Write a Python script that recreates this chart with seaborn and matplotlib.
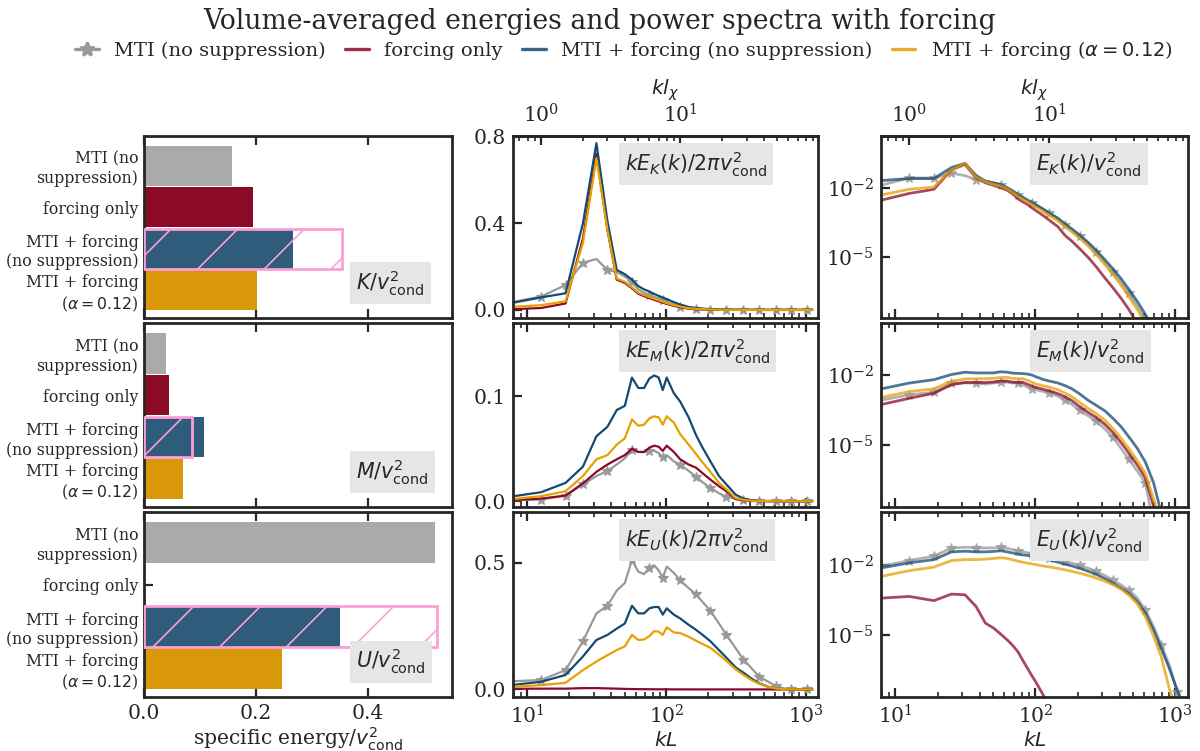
import numpy as np
import matplotlib
matplotlib.use('Agg')
import matplotlib.pyplot as plt
from matplotlib.lines import Line2D
from matplotlib.ticker import FormatStrFormatter, NullLocator, FixedLocator
import seaborn as sns

# ---- bar data (specific energies / v_cond^2) ----
categories = ['MTI (no\nsuppression)', 'forcing only',
              'MTI + forcing\n(no suppression)', 'MTI + forcing\n($\\alpha = 0.12$)']
K_bar = [0.158, 0.195, 0.267, 0.202]
M_bar = [0.039, 0.045, 0.1075, 0.070]
U_bar = [0.521, 0.002, 0.3505, 0.246]
# pink hatched outline: MTI alone + forcing alone
K_sum = 0.354
M_sum = 0.086
U_sum = 0.524

# ---- spectra, kL grid ----
kL = [6.28, 12.57, 18.85, 25.13, 31.42, 37.70, 43.98, 50.27, 56.55, 62.83,
      69.12, 75.40, 81.68, 87.96, 94.25, 100.5, 113.1, 125.7, 144.5, 163.4,
      182.2, 207.3, 238.8, 270.2, 314.2, 358.1, 408.4, 465.0, 534.1, 609.5,
      697.4, 791.7, 904.8, 1030.4, 1118.0]
star_idx = [1, 2, 3, 5, 8, 11, 14, 17, 19, 21, 23, 25, 27, 29, 31, 33]

# k E(k) / 2 pi v^2  (linear panels)
kEK_grey = [0.025, 0.062, 0.115, 0.218, 0.235, 0.185, 0.175, 0.154, 0.13, 0.095,
            0.08, 0.069, 0.06, 0.054, 0.045, 0.038, 0.025, 0.015, 0.008, 0.005,
            0.003, 0.002, 0.0015, 0.001, 0.001, 0.001, 0.0008, 0.0005, 0.0005, 0.0005,
            0.0005, 0.0005, 0.0005, 0.0005, 0.0005]
kEK_red = [0.001, 0.009, 0.03, 0.33, 0.72, 0.37, 0.14, 0.125, 0.10, 0.075,
           0.064, 0.055, 0.047, 0.04, 0.034, 0.028, 0.019, 0.012, 0.006, 0.003,
           0.002, 0.0012, 0.0007, 0.0004, 0.0002, 0.0001, 0.0001, 0.0001, 0, 0,
           0, 0, 0, 0, 0]
kEK_blue = [0.021, 0.058, 0.077, 0.40, 0.77, 0.41, 0.185, 0.165, 0.14, 0.11,
            0.095, 0.085, 0.074, 0.065, 0.057, 0.05, 0.036, 0.025, 0.014, 0.009,
            0.006, 0.004, 0.0025, 0.0015, 0.001, 0.0008, 0.0006, 0.0005, 0.0004, 0.0004,
            0.0004, 0.0004, 0.0004, 0.0004, 0.0004]
kEK_orange = [0.011, 0.022, 0.04, 0.31, 0.70, 0.37, 0.145, 0.13, 0.105, 0.08,
              0.069, 0.06, 0.052, 0.045, 0.038, 0.032, 0.022, 0.015, 0.008, 0.005,
              0.0035, 0.002, 0.0012, 0.0008, 0.0005, 0.0004, 0.0003, 0.0003, 0.0002, 0.0002,
              0.0002, 0.0002, 0.0002, 0.0002, 0.0002]

kEM_grey = [0.0006, 0.0016, 0.0054, 0.016, 0.024, 0.029, 0.035, 0.041, 0.049, 0.047,
            0.047, 0.048, 0.048, 0.046, 0.042, 0.044, 0.038, 0.035, 0.029, 0.0235,
            0.018, 0.0127, 0.0076, 0.0041, 0.0025, 0.001, 0.0005, 0.0003, 0.0002, 0.0001,
            0.0001, 0.0001, 0.0001, 0.0001, 0.0001]
kEM_red = [0.0005, 0.0025, 0.0054, 0.017, 0.028, 0.035, 0.040, 0.044, 0.05, 0.047,
           0.047, 0.051, 0.053, 0.052, 0.048, 0.053, 0.047, 0.040, 0.035, 0.032,
           0.0267, 0.0206, 0.0143, 0.0095, 0.002, 0.0008, 0.0003, 0.0001, 0, 0,
           0, 0, 0, 0, 0]
kEM_blue = [0.0028, 0.0086, 0.0175, 0.033, 0.062, 0.071, 0.087, 0.091, 0.118, 0.108,
            0.108, 0.117, 0.12, 0.118, 0.106, 0.118, 0.103, 0.095, 0.080, 0.063,
            0.051, 0.038, 0.024, 0.016, 0.0063, 0.0025, 0.001, 0.0003, 0.0002, 0.0001,
            0, 0, 0, 0, 0]
kEM_orange = [0.0008, 0.0048, 0.0095, 0.024, 0.04, 0.044, 0.054, 0.06, 0.078, 0.072,
              0.073, 0.079, 0.081, 0.08, 0.073, 0.081, 0.075, 0.064, 0.054, 0.045,
              0.037, 0.028, 0.0175, 0.0114, 0.003, 0.0013, 0.0005, 0.0002, 0.0001, 0,
              0, 0, 0, 0, 0]

kEU_grey = [0.03, 0.037, 0.076, 0.19, 0.30, 0.33, 0.39, 0.42, 0.51, 0.465,
            0.455, 0.48, 0.49, 0.47, 0.44, 0.485, 0.46, 0.43, 0.40, 0.375,
            0.345, 0.31, 0.26, 0.215, 0.163, 0.118, 0.084, 0.05, 0.032, 0.013,
            0.004, 0.001, 0.0005, 0.0003, 0.0003]
kEU_red = [0.002, 0.003, 0.003, 0.005, 0.005, 0.004, 0.003, 0.002, 0.0015, 0.001,
           0.0008, 0.0006, 0.0005, 0.0004, 0.0003, 0.0002, 0.0001, 0.0001, 0, 0,
           0, 0, 0, 0, 0, 0, 0, 0, 0, 0,
           0, 0, 0, 0, 0]
kEU_blue = [0.012, 0.03, 0.057, 0.13, 0.195, 0.215, 0.24, 0.26, 0.33, 0.30,
            0.30, 0.32, 0.325, 0.325, 0.295, 0.32, 0.295, 0.28, 0.255, 0.235,
            0.215, 0.19, 0.155, 0.125, 0.087, 0.066, 0.043, 0.024, 0.011, 0.004,
            0.001, 0.0003, 0.0002, 0.0001, 0.0001]
kEU_orange = [0.006, 0.017, 0.026, 0.076, 0.11, 0.135, 0.155, 0.17, 0.215, 0.195,
              0.197, 0.21, 0.23, 0.228, 0.215, 0.245, 0.225, 0.222, 0.208, 0.192,
              0.179, 0.164, 0.137, 0.112, 0.08, 0.057, 0.037, 0.022, 0.0105, 0.004,
              0.001, 0.0003, 0.0002, 0.0001, 0.0001]

# log10 of E(k) / v^2  (log panels)
logEK_grey = [-2.05, -1.58, -1.58, -1.37, -1.48, -1.65, -1.72, -1.80, -1.89, -2.03,
              -2.17, -2.31, -2.45, -2.56, -2.65, -2.75, -2.93, -3.1, -3.35, -3.62,
              -3.83, -4.11, -4.44, -4.79, -5.24, -5.66, -6.11, -6.58, -7.14, -7.7,
              -8.4, -9.0, -9.5, -10, -10]
logEK_red = [-2.69, -2.25, -2.07, -1.23, -0.99, -1.58, -1.79, -1.9, -2.0, -2.11,
             -2.28, -2.49, -2.62, -2.73, -2.87, -2.99, -3.2, -3.41, -3.69, -4.08,
             -4.32, -4.65, -5.03, -5.41, -5.92, -6.34, -6.79, -7.28, -7.9, -8.6,
             -9.3, -10, -10, -10, -10]
logEK_blue = [-1.735, -1.605, -1.605, -1.127, -0.944, -1.465, -1.72, -1.79, -1.86, -2.0,
              -2.14, -2.31, -2.42, -2.54, -2.63, -2.73, -2.92, -3.1, -3.32, -3.58,
              -3.79, -4.06, -4.38, -4.70, -5.13, -5.52, -5.94, -6.41, -6.93, -7.49,
              -8.1, -8.8, -9.5, -10, -10]
logEK_orange = [-2.44, -2.07, -1.97, -1.23, -0.944, -1.55, -1.75, -1.86, -1.93, -2.06,
                -2.21, -2.39, -2.51, -2.62, -2.73, -2.85, -3.03, -3.2, -3.44, -3.69,
                -3.92, -4.2, -4.54, -4.87, -5.34, -5.76, -6.23, -6.72, -7.28, -7.9,
                -8.6, -9.3, -10, -10, -10]

logEM_grey = [-3.18, -2.84, -2.73, -2.35, -2.33, -2.34, -2.38, -2.33, -2.31, -2.30,
              -2.33, -2.34, -2.42, -2.5, -2.57, -2.62, -2.69, -2.75, -2.9, -3.05,
              -3.25, -3.51, -3.74, -3.95, -4.31, -4.66, -5.13, -5.6, -6.11, -6.6,
              -8.4, -9.2, -10, -10, -10]
logEM_red = [-3.39, -2.99, -2.77, -2.41, -2.31, -2.31, -2.31, -2.29, -2.25, -2.25,
             -2.3, -2.31, -2.31, -2.39, -2.46, -2.52, -2.6, -2.67, -2.79, -2.93,
             -3.09, -3.35, -3.6, -3.8, -4.11, -4.46, -4.88, -5.34, -5.85, -6.4,
             -7.6, -8.7, -9.5, -10, -10]
logEM_blue = [-2.71, -2.335, -2.19, -1.97, -1.87, -1.9, -1.9, -1.9, -1.85, -1.87,
              -1.91, -1.92, -1.93, -1.95, -1.99, -2.06, -2.18, -2.25, -2.33, -2.45,
              -2.58, -2.8, -3.08, -3.28, -3.53, -3.85, -4.2, -4.64, -5.13, -5.72,
              -6.6, -7.9, -9.0, -10, -10]
logEM_orange = [-3.08, -2.7, -2.58, -2.26, -2.16, -2.15, -2.15, -2.13, -2.1, -2.09,
                -2.14, -2.15, -2.15, -2.22, -2.3, -2.37, -2.45, -2.51, -2.62, -2.77,
                -2.92, -3.17, -3.43, -3.63, -3.93, -4.28, -4.69, -5.15, -5.66, -6.2,
                -7.3, -8.3, -9.0, -10, -10]

logEU_grey = [-2.2, -1.83, -1.64, -1.3, -1.26, -1.29, -1.29, -1.29, -1.26, -1.31,
              -1.36, -1.43, -1.46, -1.5, -1.53, -1.56, -1.63, -1.7, -1.79, -1.87,
              -1.94, -2.04, -2.16, -2.29, -2.47, -2.67, -2.87, -3.1, -3.43, -3.93,
              -4.64, -5.43, -6.29, -7.43, -8.0]
logEU_red = [-3.47, -3.36, -3.54, -3.26, -3.29, -3.79, -4.5, -4.71, -4.97, -5.21,
             -5.46, -5.74, -6.11, -6.43, -6.74, -7.0, -7.54, -8.0, -8.8, -9.5,
             -10, -10, -10, -10, -10, -10, -10, -10, -10, -10,
             -10, -10, -10, -10, -10]
logEU_blue = [-2.25, -1.93, -1.79, -1.46, -1.43, -1.46, -1.46, -1.44, -1.41, -1.46,
              -1.51, -1.56, -1.59, -1.61, -1.64, -1.67, -1.74, -1.8, -1.9, -1.99,
              -2.06, -2.16, -2.29, -2.41, -2.6, -2.8, -3.0, -3.23, -3.57, -4.07,
              -4.79, -5.57, -6.43, -7.36, -7.9]
logEU_orange = [-2.63, -2.26, -2.11, -1.83, -1.79, -1.79, -1.77, -1.74, -1.71, -1.74,
                -1.8, -1.86, -1.9, -1.94, -1.97, -2.0, -2.06, -2.1, -2.16, -2.23,
                -2.29, -2.37, -2.47, -2.57, -2.71, -2.86, -3.05, -3.3, -3.68, -4.22,
                -5.05, -5.93, -7.29, -8.4, -8.8]

# ---- style ----
sns.set_style('ticks')
plt.rcParams['font.family'] = ['DejaVu Serif']
plt.rcParams['mathtext.fontset'] = 'dejavusans'
plt.rcParams['axes.linewidth'] = 1.0
plt.rcParams['hatch.linewidth'] = 0.6

bar_colors = ['#aaaaaa', '#8b0a26', '#2e5c7a', '#d9980a']
line_colors = ['#999999', '#8b0a28', '#144a72', '#e6a000']
pink = '#fb9fd6'
fs = 7.3

fig = plt.figure(figsize=(6, 3.755), dpi=200)
col_x = [(0.1200, 0.2567), (0.4275, 0.2542), (0.7342, 0.2558)]
row_y = [(0.5766, 0.2423), (0.3249, 0.2450), (0.0719, 0.2463)]


def label_box(ax, text, x, y, va):
    ax.text(x, y, text, transform=ax.transAxes, ha='left', va=va, fontsize=7.4,
            zorder=6, bbox=dict(boxstyle='square,pad=0.3', facecolor='#e6e6e6',
                                edgecolor='none'))


def draw_lines(ax, series, alpha, lw):
    for i, (vals, color) in enumerate(zip(series, line_colors)):
        if i == 0:
            sns.lineplot(x=kL, y=vals, ax=ax, color=color, lw=lw, alpha=alpha,
                         marker='*', markersize=3.8, markevery=star_idx,
                         markeredgecolor=color, markeredgewidth=0.4)
        else:
            sns.lineplot(x=kL, y=vals, ax=ax, color=color, lw=lw, alpha=alpha)


# ---- left column: bars ----
bar_sets = [(K_bar, K_sum, '$K/v^2_{\\rm cond}$'),
            (M_bar, M_sum, '$M/v^2_{\\rm cond}$'),
            (U_bar, U_sum, '$U/v^2_{\\rm cond}$')]
for r, (vals, total, lab) in enumerate(bar_sets):
    ax = fig.add_axes([col_x[0][0], row_y[r][0], col_x[0][1], row_y[r][1]])
    sns.barplot(x=vals, y=categories, hue=categories, palette=bar_colors,
                legend=False, width=0.97, saturation=1, linewidth=0, orient='h', ax=ax)
    ax.barh(2, total, height=0.97, fill=False, edgecolor=pink, hatch='/',
            linewidth=1.0, zorder=4)
    ax.set_xlim(0, 0.551)
    ax.set_ylim(3.67, -0.72)
    ax.set_xticks([0.0, 0.2, 0.4])
    ax.xaxis.set_major_formatter(FormatStrFormatter('%.1f'))
    ax.set_xlabel('')
    ax.set_ylabel('')
    ax.tick_params(axis='both', direction='in', top=True, length=3.3, width=0.8)
    ax.tick_params(axis='x', labelsize=fs, pad=2.5)
    ax.tick_params(axis='y', labelsize=5.7, pad=2.0)
    if r < 2:
        ax.tick_params(labelbottom=False)
    else:
        ax.set_xlabel('specific energy/$v^2_{\\rm cond}$', fontsize=fs, labelpad=1)
    label_box(ax, lab, 0.689, 0.111, 'bottom')

# ---- middle column: k E(k) / 2 pi v^2 ----
mid_sets = [([kEK_grey, kEK_red, kEK_blue, kEK_orange], (-0.037, 0.803), [0.0, 0.4, 0.8],
             '$kE_K(k)/2\\pi v^2_{\\rm cond}$'),
            ([kEM_grey, kEM_red, kEM_blue, kEM_orange], (-0.0055, 0.170), [0.0, 0.1],
             '$kE_M(k)/2\\pi v^2_{\\rm cond}$'),
            ([kEU_grey, kEU_red, kEU_blue, kEU_orange], (-0.03, 0.70), [0.0, 0.5],
             '$kE_U(k)/2\\pi v^2_{\\rm cond}$')]

right_sets = [([logEK_grey, logEK_red, logEK_blue, logEK_orange], '$E_K(k)/v^2_{\\rm cond}$'),
              ([logEM_grey, logEM_red, logEM_blue, logEM_orange], '$E_M(k)/v^2_{\\rm cond}$'),
              ([logEU_grey, logEU_red, logEU_blue, logEU_orange], '$E_U(k)/v^2_{\\rm cond}$')]

for r in range(3):
    series, ylim, yt, lab = mid_sets[r]
    ax = fig.add_axes([col_x[1][0], row_y[r][0], col_x[1][1], row_y[r][1]])
    draw_lines(ax, series, 1.0, 0.8)
    ax.set_xscale('log')
    ax.set_xlim(7.9, 1230)
    ax.set_ylim(*ylim)
    ax.set_yticks(yt)
    ax.yaxis.set_major_formatter(FormatStrFormatter('%.1f'))
    label_box(ax, lab, 0.368, 0.927, 'top')

    rseries, rlab = right_sets[r]
    axr = fig.add_axes([col_x[2][0], row_y[r][0], col_x[2][1], row_y[r][1]])
    draw_lines(axr, [np.power(10.0, np.array(s)) for s in rseries], 0.75, 1.0)
    axr.set_xscale('log')
    axr.set_yscale('log')
    axr.set_xlim(7.9, 1230)
    axr.set_ylim(10 ** -7.65, 10 ** 0.24)
    axr.set_yticks([1e-5, 1e-2])
    axr.yaxis.set_minor_locator(NullLocator())
    label_box(axr, rlab, 0.506, 0.927, 'top')

    for a in (ax, axr):
        a.set_xlabel('')
        a.set_ylabel('')
        a.tick_params(axis='both', which='major', direction='in', length=3.3,
                      width=0.8, labelsize=fs, top=(r > 0), pad=2.5)
        a.tick_params(axis='x', which='minor', direction='in', length=1.8,
                      width=0.6, top=(r > 0))
        if r < 2:
            a.tick_params(labelbottom=False)
        else:
            a.set_xlabel('$kL$', fontsize=fs, labelpad=1.5)
        if r == 0:
            sec = a.secondary_xaxis('top', functions=(lambda x: x / (4 * np.pi),
                                                      lambda x: x * 4 * np.pi))
            sec.xaxis.set_major_locator(FixedLocator([1.0, 10.0]))
            sec.set_xlabel('$kl_\\chi$', fontsize=fs, labelpad=3)
            sec.tick_params(which='major', direction='in', length=3.3, width=0.8,
                            labelsize=fs)
            sec.tick_params(which='minor', direction='in', length=1.8, width=0.6)

# ---- legend and title ----
handles = [Line2D([], [], color=line_colors[0], lw=1.2, marker='*', markersize=5),
           Line2D([], [], color=line_colors[1], lw=1.2, alpha=0.85),
           Line2D([], [], color=line_colors[2], lw=1.2, alpha=0.85),
           Line2D([], [], color=line_colors[3], lw=1.2, alpha=0.85)]
labels = ['MTI (no suppression)', 'forcing only', 'MTI + forcing (no suppression)',
          'MTI + forcing ($\\alpha = 0.12$)']
fig.legend(handles, labels, loc='center', bbox_to_anchor=(0.52, 0.933), ncol=4,
           frameon=False, fontsize=7.0, handlelength=1.2, handletextpad=0.8,
           columnspacing=1.0)
fig.suptitle('Volume-averaged energies and power spectra with forcing',
             x=0.5, y=0.99, va='top', fontsize=9.6)

fig.savefig('out.png', dpi=200)
